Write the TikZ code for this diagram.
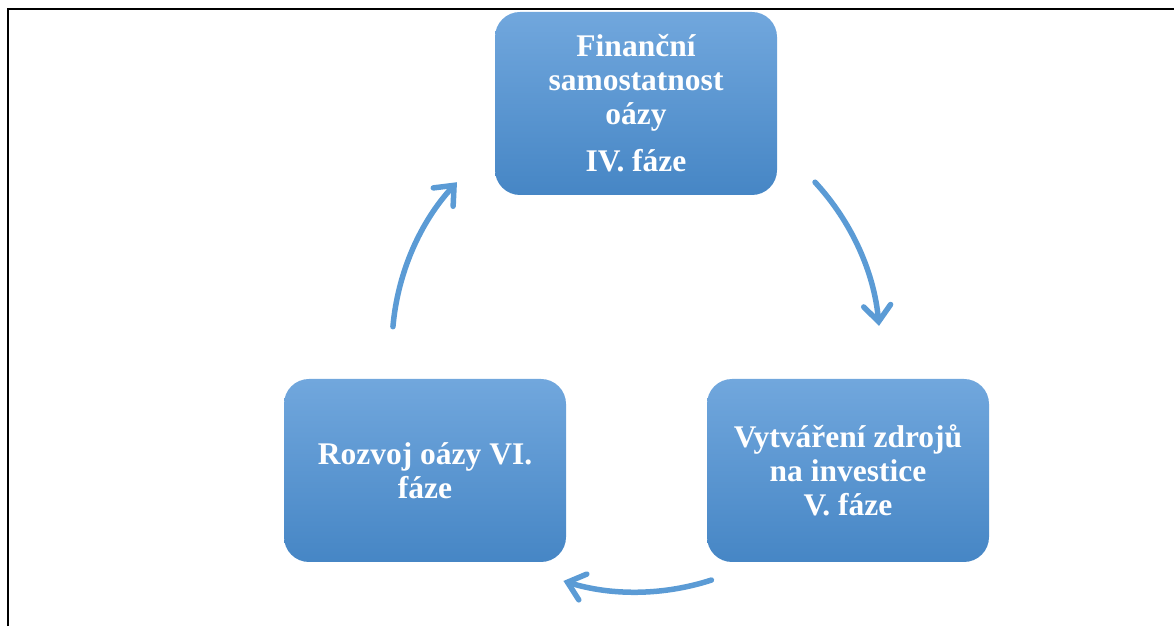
\documentclass[tikz,border=0pt]{standalone}
\usepackage{fontspec}
\setmainfont{Liberation Serif}
\usetikzlibrary{arrows.meta,calc}
\definecolor{boxtop}{RGB}{113,167,221}
\definecolor{boxmid}{RGB}{84,153,219}
\definecolor{boxbot}{RGB}{70,134,197}
\definecolor{arrowblue}{RGB}{91,155,213}
\begin{document}
\begin{tikzpicture}[x=1pt,y=1pt,
  phase/.style={minimum width=282pt, minimum height=183pt, rounded corners=25pt,
    top color=boxtop, middle color=boxmid, bottom color=boxbot,
    text=white, font=\fontsize{31.5}{34}\selectfont\bfseries,
    align=center, inner sep=0pt},
  cyclearrow/.style={draw=arrowblue, line width=5.5pt, line cap=round,
    -{Straight Barb[length=16pt,width=27pt,line cap=round]}}]
\useasboundingbox (0,0) rectangle (1174,626);
% frame lines
\draw[line width=2pt] (8,0) -- (8,617) -- (1174,617);

% phases
\node[phase] (p4) at (636,522.5) {Finanční\\samostatnost\\oázy\\[13pt]IV. fáze};
\node[phase] (p5) at (848,155.5) {Vytváření zdrojů\\na investice\\V. fáze};
\node[phase] (p6) at (425,155.5) {Rozvoj oázy VI.\\fáze};

% cycle arrows on a common circle
\coordinate (ctr) at (636,278);
\draw[cyclearrow] ($(ctr)+(42.8:244)$) arc[start angle=42.8, end angle=5.2, radius=244];
\draw[cyclearrow] ($(ctr)+(-72:244)$) arc[start angle=-72, end angle=-107.3, radius=244];
\draw[cyclearrow] ($(ctr)+(175:244)$) arc[start angle=175, end angle=137.2, radius=244];
\end{tikzpicture}
\end{document}
